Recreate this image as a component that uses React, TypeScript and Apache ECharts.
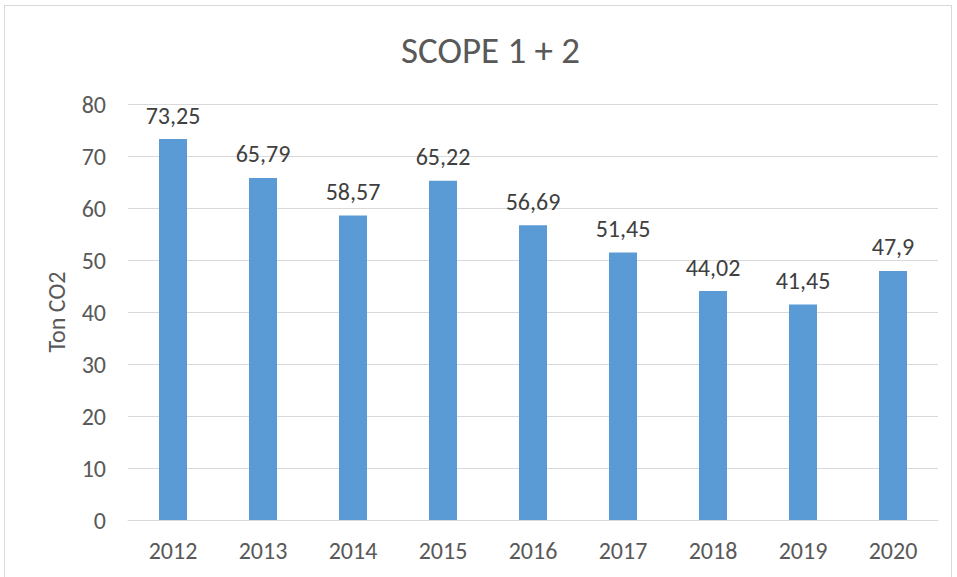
import React, { useEffect, useRef } from "react";
import * as echarts from "echarts";

const years = ["2012", "2013", "2014", "2015", "2016", "2017", "2018", "2019", "2020"];
const values = [73.25, 65.79, 58.57, 65.22, 56.69, 51.45, 44.02, 41.45, 47.9];
const labels = ["73,25", "65,79", "58,57", "65,22", "56,69", "51,45", "44,02", "41,45", "47,9"];

export default function App() {
  const ref = useRef<HTMLDivElement>(null);
  useEffect(() => {
    document.body.style.margin = "0";
    const chart = echarts.init(ref.current!, undefined, { renderer: "svg" });
    const font = "Carlito, Calibri, 'Open Sans', sans-serif";
    chart.setOption({
      animation: false,
      backgroundColor: "#ffffff",
      title: {
        text: "SCOPE 1 + 2",
        left: 391,
        top: 21,
        textStyle: { fontFamily: font, fontSize: 37, fontWeight: "normal", color: "#595959" },
      },
      grid: { left: 123, right: 13, top: 98, bottom: 57 },
      xAxis: {
        type: "category",
        data: years,
        axisLine: { lineStyle: { color: "#d9d9d9", width: 1 } },
        axisTick: { show: false },
        axisLabel: { fontFamily: font, fontSize: 24, color: "#595959", margin: 18 },
      },
      yAxis: {
        type: "value",
        min: 0,
        max: 80,
        interval: 10,
        name: "Ton CO2",
        nameLocation: "middle",
        nameGap: 60,
        nameRotate: 90,
        nameTextStyle: { fontFamily: font, fontSize: 24, color: "#595959" },
        axisLine: { show: false },
        axisTick: { show: false },
        splitLine: { lineStyle: { color: "#d9d9d9", width: 1 } },
        axisLabel: { fontFamily: font, fontSize: 24, color: "#595959", margin: 22 },
      },
      series: [
        {
          type: "bar",
          data: values,
          barWidth: 28,
          itemStyle: { color: "#5b9bd5" },
          label: {
            show: true,
            position: "top",
            distance: 12,
            fontFamily: font,
            fontSize: 24,
            color: "#404040",
            formatter: (p: any) => labels[p.dataIndex],
          },
        },
      ],
    });
    return () => chart.dispose();
  }, []);
  return (
    <div style={{ position: "relative", width: 957, height: 577, background: "#fff" }}>
      <div
        style={{
          position: "absolute",
          left: 4,
          top: 5,
          width: 948,
          height: 580,
          border: "1px solid #d9d9d9",
          boxSizing: "border-box",
        }}
      />
      <div ref={ref} style={{ position: "absolute", left: 5, top: 6, width: 946, height: 571 }} />
    </div>
  );
}
